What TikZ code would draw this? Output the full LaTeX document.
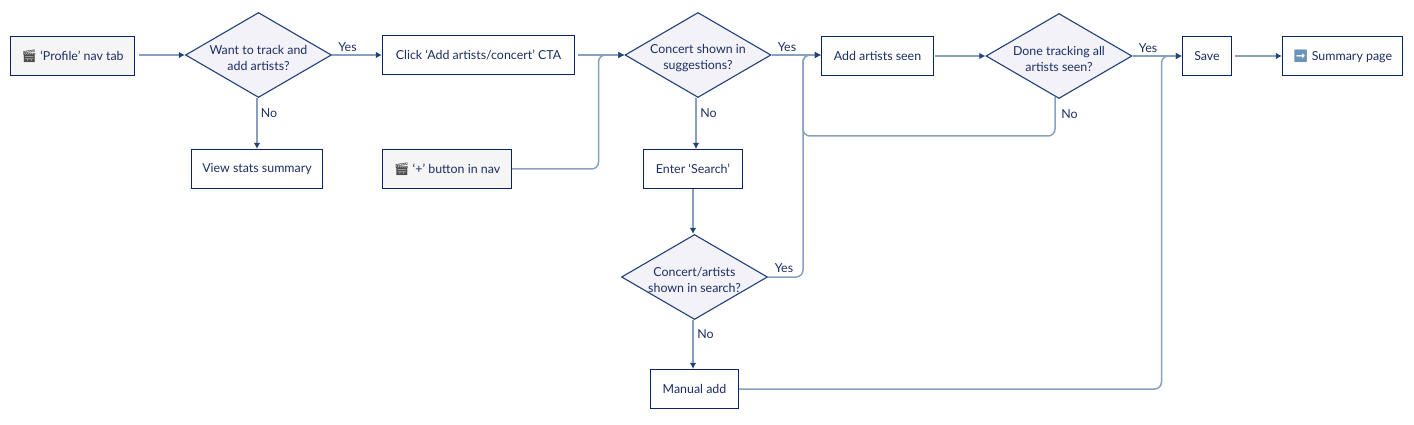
\documentclass[tikz,border=0pt]{standalone}
\usepackage{fontspec}
\setmainfont{Lato}
\newfontfamily\emojifont{Noto Emoji}
\usetikzlibrary{shapes.geometric,arrows.meta}
\definecolor{navyline}{HTML}{0A2463}
\definecolor{navytext}{HTML}{1C2F63}
\definecolor{flowline}{HTML}{88A0C0}
\definecolor{flowtip}{HTML}{1F4478}
\definecolor{diamondline}{HTML}{20407A}
\definecolor{diamondfill}{HTML}{F2F2F8}
\definecolor{startfill}{HTML}{F5F5F5}
\definecolor{arrowfill}{HTML}{6C93B8}
\newcommand{\clapper}{{\emojifont\color{black!70}\symbol{"1F3AC}}}
\newcommand{\nextpage}{{\emojifont\color{arrowfill}\symbol{"27A1}}}
\newcommand{\topgap}{\rule{0pt}{16pt}}
\tikzset{
    stepbox/.style={draw=navyline,line width=1.2pt,fill=white,text=navytext,inner sep=0pt,minimum height=39pt,font=\fontsize{12.4}{16}\selectfont},
    startbox/.style={stepbox,fill=startfill},
    decision/.style={diamond,aspect=1.72,draw=diamondline,line width=1.1pt,fill=diamondfill,text=navytext,inner sep=-6pt,minimum width=146pt,minimum height=85pt,align=center,font=\fontsize{12.4}{16}\selectfont},
    flow/.style={draw=flowline,line width=1.5pt,rounded corners=7pt,-{Latex[length=6pt,width=6.5pt,color=flowtip]}},
    answer/.style={text=navytext,inner sep=0pt,font=\fontsize{12.4}{16}\selectfont}
}
\begin{document}
\begin{tikzpicture}[x=1pt,y=-1pt]
        \useasboundingbox (0,0) rectangle (1414,425);
        % top row
        \node[startbox,minimum width=124pt] (profile) at (72.5,56) {\clapper\ ‘Profile’ nav tab};
        \node[decision] (want) at (258.5,55) {\topgap Want to track and\\add artists?};
        \node[stepbox,minimum width=192pt] (click) at (478.5,55) {Click ‘Add artists/concert’ CTA};
        \node[decision] (concert) at (698,55) {\topgap Concert shown in\\suggestions?};
        \node[stepbox,minimum width=112pt] (add) at (877.5,56) {Add artists seen};
        \node[decision] (done) at (1059,56) {\topgap Done tracking all\\artists seen?};
        \node[stepbox,minimum width=49pt] (save) at (1207,56) {Save};
        \node[stepbox,minimum width=120pt] (summary) at (1342.5,56) {\nextpage\ Summary page};
        % lower boxes
        \node[stepbox,minimum width=131pt] (stats) at (257,169) {View stats summary};
        \node[startbox,minimum width=129pt] (plus) at (447,169) {\clapper\ ‘+’ button in nav};
        \node[stepbox,minimum width=99pt] (search) at (693,169) {Enter ‘Search’};
        \node[decision] (found) at (694.5,277) {\topgap Concert/artists\\shown in search?};
        \node[stepbox,minimum width=88pt] (manual) at (694.5,389) {Manual add};
        % bends
        \coordinate (joinplus) at (598.5,55);
        \coordinate (joinadd) at (803,55);
        \coordinate (joinsave) at (1161.5,56);
        \coordinate (loopdone) at (1055,136);
        \coordinate (entersearch) at (696,149);
        % connectors
        \draw[flow,shorten <=4pt] (profile.east |- want.west) -- (want.west);
        \draw[flow] (want.east) -- (click.west |- want.east);
        \draw[flow] (stats.north |- want.south) -- (stats.north);
        \draw[flow,shorten <=3pt] (click.east |- concert.west) -- (concert.west);
        \draw[flow] (plus.east) -| (joinplus) -- (concert.west);
        \draw[flow] (concert.east) -- (add.west |- concert.east);
        \draw[flow] (entersearch |- concert.south) -- (entersearch);
        \draw[flow] (search.south) -- (search.south |- found.north);
        \draw[flow] (found.east) -| (joinadd) -- (add.west |- joinadd);
        \draw[flow,shorten <=1pt] (add.east |- done.west) -- (done.west);
        \draw[flow] ([yshift=2pt]loopdone |- done.south) -- (loopdone) -| (joinadd) -- (add.west |- joinadd);
        \draw[flow] (done.east) -- (save.west |- done.east);
        \draw[flow] (search.south |- found.south) -- (search.south |- manual.north);
        \draw[flow] (manual.east) -| (joinsave) -- (save.west |- joinsave);
        \draw[flow,shorten <=3pt] (save.east) -- (summary.west);
        % answers
        \node[answer] (yeswant) at (347.5,47) {Yes};
        \node[answer] (nowant) at (269,113) {No};
        \node[answer] (yesconcert) at (787,47) {Yes};
        \node[answer] (noconcert) at (708.5,113) {No};
        \node[answer] (yesfound) at (784,268) {Yes};
        \node[answer] (nofound) at (705.5,334) {No};
        \node[answer] (yesdone) at (1148,48) {Yes};
        \node[answer] (nodone) at (1069.5,114) {No};
\end{tikzpicture}
\end{document}
